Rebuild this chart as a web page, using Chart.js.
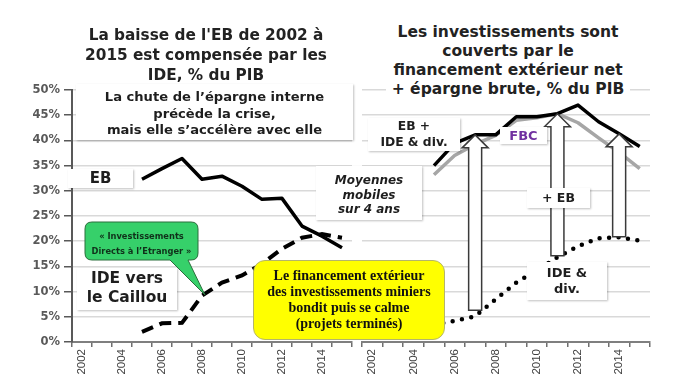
<!DOCTYPE html>
<html>
<head>
<meta charset="utf-8">
<script src="https://cdn.jsdelivr.net/npm/chart.js@4.4.1/dist/chart.umd.min.js"></script>
<style>
  body { margin: 0; background: #fff; }
  #wrap { position: relative; width: 684px; height: 385px; overflow: hidden; font-family: 'DejaVu Sans', sans-serif; }
  canvas { position: absolute; top: 0; }
  .note { position: absolute; text-align: center; font-weight: bold; color: #1e1e1e; box-sizing: border-box; white-space: nowrap; }
  .box { background: #fff; box-shadow: 1px 1px 2px rgba(0,0,0,0.25); }
</style>
</head>
<body>
<div id="wrap">
  <canvas id="leftChart" width="358" height="385" style="left:0"></canvas>
  <canvas id="rightChart" width="326" height="385" style="left:358px"></canvas>
  <svg width="684" height="385" style="position:absolute;left:0;top:0">
    <path d="M92,222 H191 Q198,222 198,229 V253 Q198,260 191,260 H188 L205,295 L170,260 H92 Q85,260 85,253 V229 Q85,222 92,222 Z"
          fill="#36d06a" stroke="#2b6e3c" stroke-width="1"/>
  </svg>

  <!-- titres -->
  <div class="note" style="left:56px;top:25px;width:300px;font-size:15.3px;line-height:20px;color:#222">La baisse de l'EB de 2002 à<br>2015 est compensée par les<br>IDE, % du PIB</div>
  <div class="note" style="left:386px;top:23px;width:244px;font-size:15.5px;line-height:19px;color:#222;background:#fff">Les investissements sont<br>couverts par le<br>financement extérieur net<br>+ épargne brute, % du PIB</div>

  <!-- panneau gauche -->
  <div class="note box" style="left:76px;top:84px;width:277px;height:56px;padding-top:5px;font-size:13.1px;line-height:16.5px">La chute de l’épargne interne<br>précède la crise,<br>mais elle s’accélère avec elle</div>
  <div class="note box" style="left:68px;top:169px;width:65px;height:19px;font-size:15px;line-height:19px">EB</div>
  <div class="note box" style="left:316px;top:166px;width:106px;height:54px;padding-top:7px;font-size:12px;line-height:14.5px;font-style:italic">Moyennes<br>mobiles<br>sur 4 ans</div>
  <div class="note" style="left:85px;top:229px;width:113px;font-size:8.3px;line-height:15px;color:#10301a">« Investissements<br>Directs à l’Etranger »</div>
  <div class="note box" style="left:77px;top:268px;width:100px;height:42px;padding-top:1px;font-size:15.5px;line-height:19px">IDE vers<br>le Caillou</div>
  <div class="note" style="left:253px;top:260px;width:192px;height:80px;padding-top:7px;background:#ffff00;border:1px solid #b5b56a;border-radius:12px;font-family:'Liberation Serif',serif;font-size:14px;line-height:16px;color:#111">Le financement extérieur<br>des investissements miniers<br>bondit puis se calme<br>(projets terminés)</div>

  <!-- panneau droit -->
  <div class="note box" style="left:368px;top:118px;width:92px;height:33px;padding-top:1px;font-size:12.3px;line-height:15.5px">EB +<br>IDE &amp; div.</div>
  <div class="note box" style="left:500px;top:127px;width:47px;height:17px;font-size:13px;line-height:17px;color:#7030a0">FBC</div>
  <div class="note box" style="left:527px;top:188px;width:63px;height:20px;font-size:12.5px;line-height:20px">+ EB</div>
  <div class="note box" style="left:527px;top:262px;width:80px;height:38px;padding-top:3px;font-size:13px;line-height:16px">IDE &amp;<br>div.</div>
</div>

<script>
// années (catégories) et libellés affichés
const years = ['2002', '2003', '2004', '2005', '2006', '2007', '2008', '2009', '2010', '2011', '2012', '2013', '2014', '2015'];
const shownYears = ['2002', '2004', '2006', '2008', '2010', '2012', '2014'];

// graphique de gauche, % du PIB
const ebLeft  = [null, null, null, 32.3, 34.4, 36.4, 32.3, 32.9, 30.9, 28.3, 28.5, 23.0, 21.0, 18.7];
const ideLeft = [null, null, null, 2.0, 3.7, 3.8, 9.2, 11.8, 13.2, 15.5, 18.5, 20.7, 21.4, 20.7];

// graphique de droite, % du PIB
const ebIdeRight  = [null, null, null, 35.0, 39.4, 41.1, 41.1, 44.7, 44.7, 45.3, 47.0, 43.7, 41.3, 38.8];
const fbcRight    = [null, null, null, 33.2, 37.0, 39.2, 41.0, 44.0, 44.5, 45.3, 43.5, 40.5, 37.6, 34.4];
const ideDivRight = [null, null, null, 3.4, 4.2, 5.1, 8.5, 11.8, 14.2, 16.8, 19.0, 20.6, 20.8, 20.1];

// flèches : de IDE & div. vers EB + IDE & div.
const arrowYears = ['2007', '2011', '2014'];
const arrowBase  = [6.3, 17.1, 20.9];

const yMin = 0, yMax = 50, yStep = 5;

const xTicks = {
    autoSkip: false,
    minRotation: 90,
    maxRotation: 90,
    padding: 2,
    color: '#404040',
    font: { family: "'Liberation Sans', sans-serif", size: 11.5 },
    callback: function(v, i) { return shownYears.includes(years[i]) ? years[i] : ''; }
};

const arrowPlugin = {
    id: 'arrows',
    afterDatasetsDraw(chart) {
        const ctx = chart.ctx;
        const xs = chart.scales.x, ys = chart.scales.y;
        arrowYears.forEach(function(yr, k) {
            const i = years.indexOf(yr);
            const x = xs.getPixelForValue(i);
            const yTop = ys.getPixelForValue(ebIdeRight[i]);
            const yBot = ys.getPixelForValue(arrowBase[k]);
            const sw = 6.5, hw = 13, hh = 13;
            ctx.save();
            ctx.beginPath();
            ctx.moveTo(x - sw, yBot);
            ctx.lineTo(x - sw, yTop + hh);
            ctx.lineTo(x - hw, yTop + hh);
            ctx.lineTo(x, yTop);
            ctx.lineTo(x + hw, yTop + hh);
            ctx.lineTo(x + sw, yTop + hh);
            ctx.lineTo(x + sw, yBot);
            ctx.closePath();
            ctx.fillStyle = '#fff';
            ctx.fill();
            ctx.strokeStyle = '#3a3a3a';
            ctx.lineWidth = 1.5;
            ctx.stroke();
            ctx.restore();
        });
    }
};

// Graphique gauche : EB et IDE
new Chart(document.getElementById('leftChart'), {
    type: 'line',
    data: {
        labels: years,
        datasets: [{
            label: 'EB',
            data: ebLeft,
            borderColor: '#000',
            borderWidth: 3.5,
            borderJoinStyle: 'round',
            pointRadius: 0
        },
        {
            label: 'IDE vers le Caillou',
            data: ideLeft,
            borderColor: '#000',
            borderWidth: 4,
            borderDash: [12, 7],
            pointRadius: 0
        }]
    },
    options: {
        responsive: false,
        animation: false,
        layout: { padding: { top: 90, left: 0, right: 6, bottom: 0 } },
        plugins: { legend: { display: false }, tooltip: { enabled: false } },
        scales: {
            x: {
                offset: true,
                grid: { offset: true, drawOnChartArea: false, tickLength: 5, color: '#6f6f6f', lineWidth: 1.5 },
                border: { color: '#7f7f7f', width: 2 },
                ticks: xTicks,
                afterFit: function(s) { s.height = 43; }
            },
            y: {
                min: yMin, max: yMax,
                grid: { color: '#d9d9d9', lineWidth: 1.5, tickLength: 8, tickColor: '#595959' },
                border: { color: '#595959', width: 2 },
                ticks: {
                    stepSize: yStep, padding: 4, color: '#595959',
                    font: { family: "'DejaVu Sans', sans-serif", size: 11.5, weight: 'bold' },
                    callback: function(v) { return v + '%'; }
                },
                afterFit: function(s) { s.width = 72; }
            }
        }
    }
});

// Graphique droit : EB + IDE & div., FBC, IDE & div.
new Chart(document.getElementById('rightChart'), {
    type: 'line',
    data: {
        labels: years,
        datasets: [{
            label: 'EB + IDE & div.',
            data: ebIdeRight,
            borderColor: '#000',
            borderWidth: 3.5,
            borderJoinStyle: 'round',
            pointRadius: 0
        },
        {
            label: 'FBC',
            data: fbcRight,
            borderColor: '#a6a6a6',
            borderWidth: 3.5,
            borderJoinStyle: 'round',
            pointRadius: 0
        },
        {
            label: 'IDE & div.',
            data: ideDivRight,
            borderColor: '#000',
            borderWidth: 4.5,
            borderDash: [0, 9.5],
            borderCapStyle: 'round',
            pointRadius: 0
        }]
    },
    options: {
        responsive: false,
        animation: false,
        layout: { padding: { top: 90, left: 4, right: 34, bottom: 0 } },
        plugins: { legend: { display: false }, tooltip: { enabled: false } },
        scales: {
            x: {
                offset: true,
                grid: { offset: true, drawOnChartArea: false, tickLength: 5, color: '#6f6f6f', lineWidth: 1.5 },
                border: { color: '#7f7f7f', width: 2 },
                ticks: xTicks,
                afterFit: function(s) { s.height = 43; }
            },
            y: {
                min: yMin, max: yMax,
                grid: { color: '#d9d9d9', lineWidth: 1.5, drawTicks: false },
                border: { display: false },
                ticks: { display: false, stepSize: yStep },
                afterFit: function(s) { s.width = 0; }
            }
        }
    },
    plugins: [arrowPlugin]
});
</script>
</body>
</html>
